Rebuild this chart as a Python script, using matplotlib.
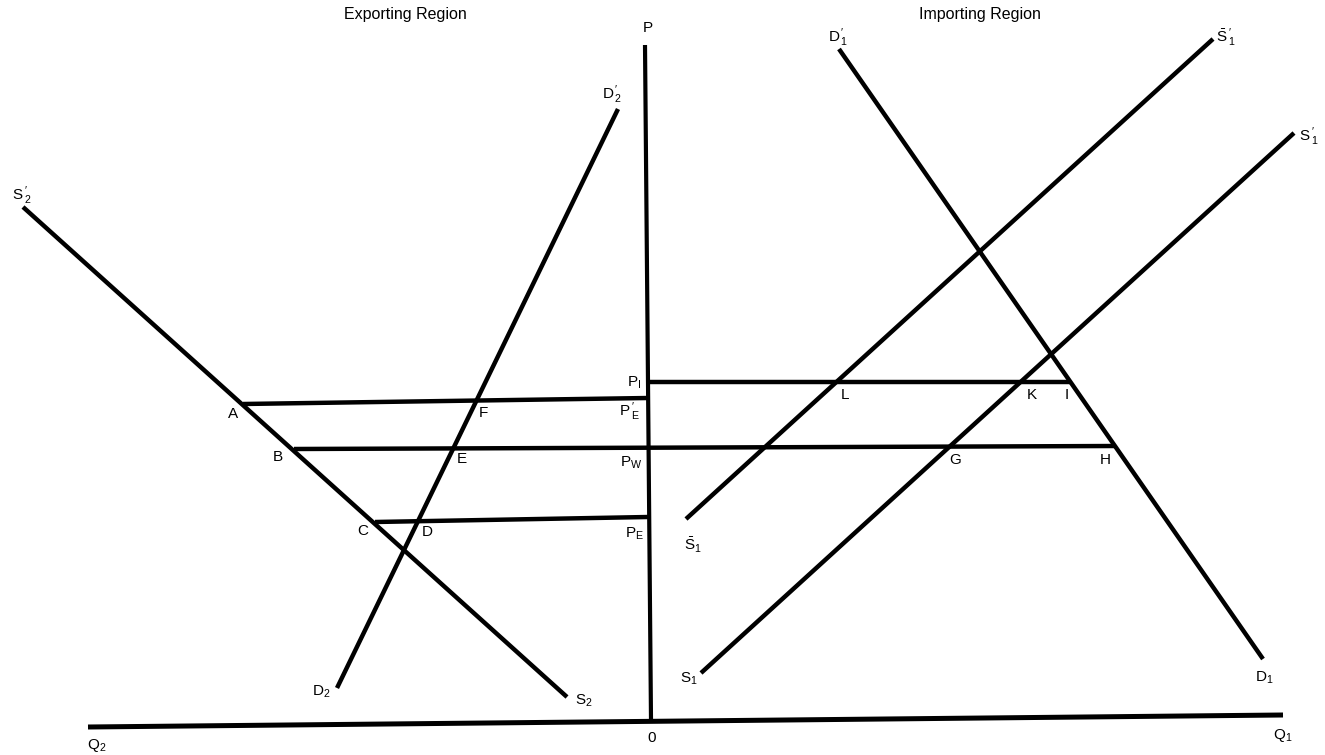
import matplotlib.pyplot as plt

plt.rcParams["font.family"] = ["Liberation Sans", "DejaVu Sans"]
plt.rcParams["mathtext.default"] = "regular"

# curves: end points (x, y) in drawing units, y grows downwards
curve_names = ["S2'", "D2'", "D1'", "S1bar", "S1"]
curve_x0 = [23, 337, 839, 686, 701]
curve_y0 = [207, 688, 49, 519, 673]
curve_x1 = [567, 618, 1263, 1213, 1294]
curve_y1 = [697, 109, 659, 39, 133]

# horizontal price lines: P_I, P_E', P_W, P_E
price_names = ["P_I", "P_E'", "P_W", "P_E"]
price_x0 = [648, 243, 294, 375]
price_y0 = [382, 404, 449, 522]
price_x1 = [1070, 648, 1115, 648]
price_y1 = [382, 398, 446, 517]

# axes
p_axis_x = [645, 651]
p_axis_y = [45, 720]
q_axis_x = [88, 1283]
q_axis_y = [727, 715]

title_text = ["Exporting Region", "Importing Region"]
title_x = [405, 980]
title_y = [15, 14]

label_text = [
    "P",
    r"$D_{\,1}^{\,\prime}$", r"$\bar{S}_{\,1}^{\,\prime}$", r"$S_{\,1}^{\,\prime}$",
    r"$D_{\,2}^{\,\prime}$", r"$S_{\,2}^{\,\prime}$",
    "A", "B", "C", "D", "E", "F",
    r"$P_I$", r"$P_{\,E}^{\,\prime}$", r"$P_W$", r"$P_E$",
    "L", "K", "I", "G", "H",
    r"$\bar{S}_1$", r"$S_1$", r"$D_2$", r"$S_2$", r"$D_1$",
    r"$Q_2$", "0", r"$Q_1$",
]
label_x = [
    648,
    838, 1226, 1309,
    612, 22,
    233, 278, 363, 427, 462, 483,
    634, 629, 631, 634,
    845, 1032, 1067, 955, 1105,
    693, 689, 321, 584, 1264,
    97, 652, 1283,
]
label_y = [
    28,
    38, 38, 137,
    95, 196,
    414, 457, 531, 532, 459, 413,
    383, 412, 463, 534,
    395, 395, 395, 460, 460,
    545, 679, 692, 701, 678,
    746, 738, 736,
]


def draw_diagram(out_file):
    fig = plt.figure(figsize=(13.25, 7.55), dpi=100)
    ax = fig.add_axes([0, 0, 1, 1])
    ax.set_xlim(0, 1325)
    ax.set_ylim(755, 0)
    ax.axis("off")

    ax.plot(p_axis_x, p_axis_y, color="black", lw=3.0, solid_capstyle="butt")
    ax.plot(q_axis_x, q_axis_y, color="black", lw=3.6, solid_capstyle="butt")

    for i in range(len(curve_names)):
        ax.plot([curve_x0[i], curve_x1[i]], [curve_y0[i], curve_y1[i]],
                color="black", lw=3.2, solid_capstyle="butt")

    for i in range(len(price_names)):
        ax.plot([price_x0[i], price_x1[i]], [price_y0[i], price_y1[i]],
                color="black", lw=3.2, solid_capstyle="butt")

    for txt, x, y in zip(title_text, title_x, title_y):
        ax.text(x, y, txt, ha="center", va="center", fontsize=11.5, color="black")

    for txt, x, y in zip(label_text, label_x, label_y):
        ax.text(x, y, txt, ha="center", va="center", fontsize=11, color="black")

    fig.savefig(out_file, dpi=100)
    plt.close(fig)


draw_diagram("out.png")
